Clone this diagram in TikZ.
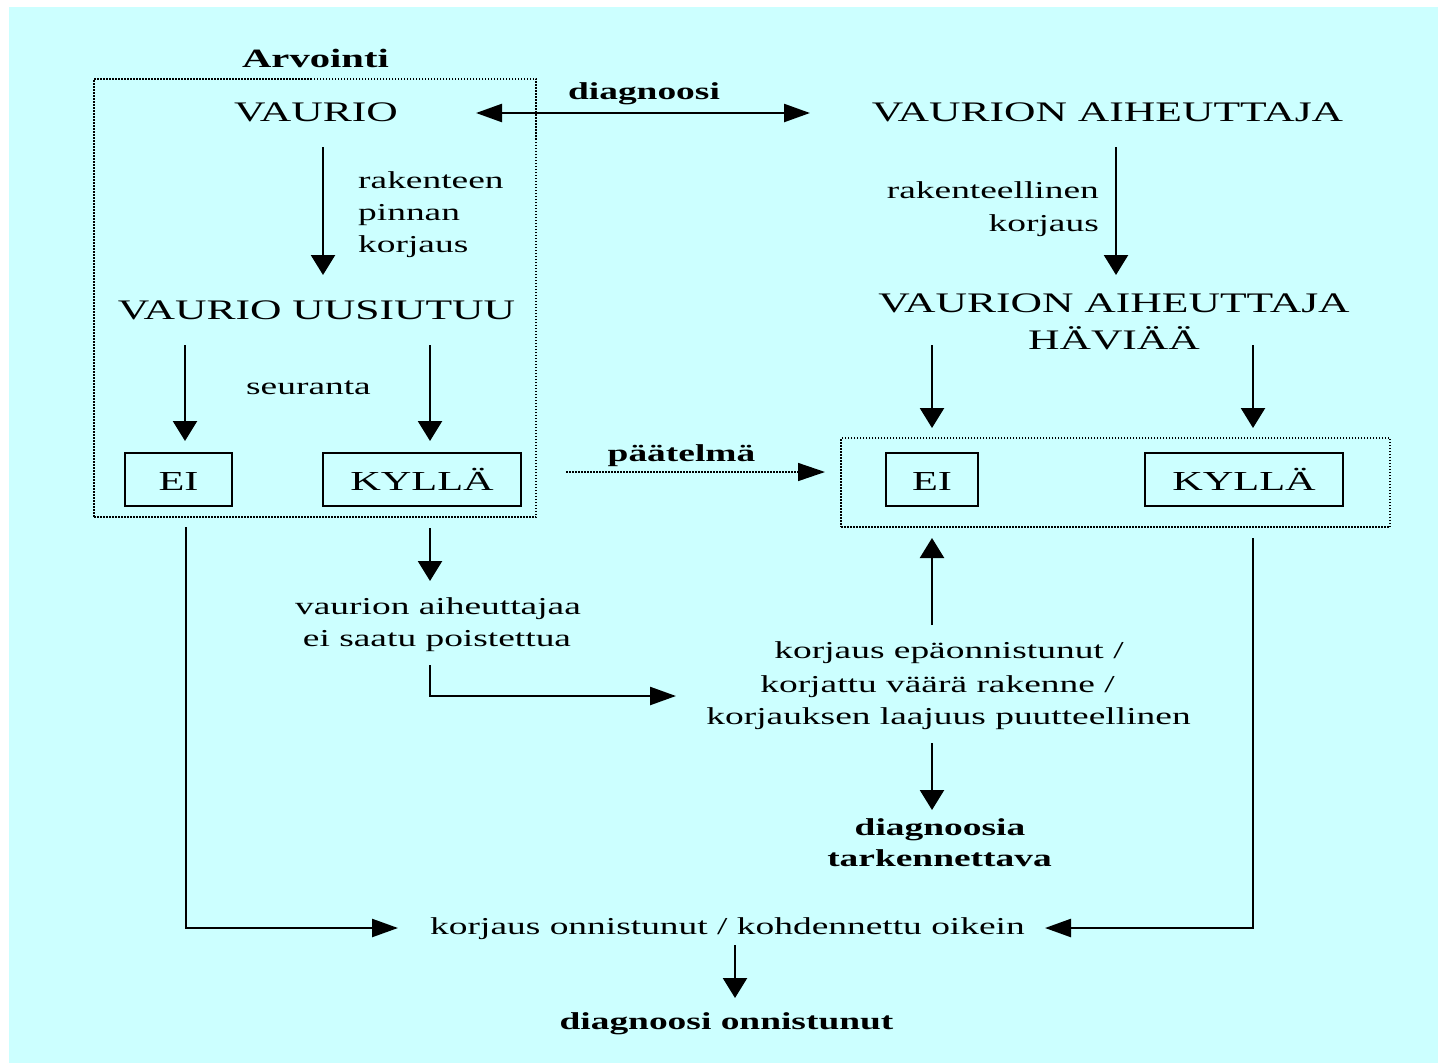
\documentclass[tikz,border=0pt]{standalone}
\usepackage{fontspec}
\setmainfont{Liberation Serif}[FakeStretch=1.54]
\usetikzlibrary{arrows.meta}
\definecolor{bg}{HTML}{CCFFFF}
\begin{document}
\begin{tikzpicture}[x=1pt,y=-1pt,
  big/.style={font=\fontsize{28.3}{36}\selectfont, inner sep=0pt, anchor=base},
  small/.style={font=\fontsize{24.3}{32}\selectfont, inner sep=0pt, anchor=base},
  bsmall/.style={font=\fontsize{24.3}{32}\selectfont\bfseries, inner sep=0pt, anchor=base},
  varr/.style={line width=2.4pt, -{Triangle[length=20pt,width=24pt]}},
  harr/.style={line width=2.4pt, -{Triangle[length=26pt,width=18pt]}},
  dotline/.style={line width=1.5pt, dash pattern=on 1.5pt off 1.5pt},
  ansbox/.style={draw, line width=2pt, font=\fontsize{27.5}{36}\selectfont, inner sep=0pt,
    minimum height=53pt, text height=21pt, text depth=0pt}]
\useasboundingbox (0,0) rectangle (1438,1063);
\fill[white] (0,0) rectangle (1438,1063);
\fill[bg] (9,7) rectangle (1438,1063);

% frames
\node[draw, dotline, minimum width=442pt, minimum height=438pt, inner sep=0pt] (leftframe) at (315,298) {};
\node[draw, dotline, minimum width=549pt, minimum height=89pt, inner sep=0pt] (rightframe) at (1115.5,482.5) {};

% texts
\node[bsmall, font=\fontsize{26.4}{32}\selectfont\bfseries] (arv) at (315.5,67) {Arvointi};
\node[big] (vaurio) at (316,121) {VAURIO};
\node[bsmall] (diag) at (644,99) {diagnoosi};
\node[big] (aiheut) at (1107.5,121) {VAURION AIHEUTTAJA};
\node[small, anchor=base west] (rk1) at (358,188) {rakenteen};
\node[small, anchor=base west] (rk2) at (358,220) {pinnan};
\node[small, anchor=base west] (rk3) at (358,252) {korjaus};
\node[small, anchor=base east] (rl1) at (1099,198) {rakenteellinen};
\node[small, anchor=base east] (rl2) at (1099,231) {korjaus};
\node[big] (uusi) at (316.5,319) {VAURIO UUSIUTUU};
\node[big] (hav1) at (1114,312) {VAURION AIHEUTTAJA};
\node[big] (hav2) at (1114,349) {HÄVIÄÄ};
\node[small] (seur) at (308.5,394) {seuranta};
\node[bsmall] (paat) at (681.5,461) {päätelmä};
\node[small] (ei1) at (438,614) {vaurion aiheuttajaa};
\node[small] (ei2) at (437,646) {ei saatu poistettua};
\node[small] (ep1) at (949,658) {korjaus epäonnistunut /};
\node[small] (ep2) at (937.5,692) {korjattu väärä rakenne /};
\node[small] (ep3) at (948.5,724) {korjauksen laajuus puutteellinen};
\node[bsmall] (tark1) at (940,835) {diagnoosia};
\node[bsmall] (tark2) at (939.5,866) {tarkennettava};
\node[small] (onn) at (727.5,934) {korjaus onnistunut / kohdennettu oikein};
\node[bsmall] (donn) at (726.5,1029) {diagnoosi onnistunut};

% answer boxes
\node[ansbox, minimum width=107pt] (eiL) at (178.5,479.5) {EI};
\node[ansbox, minimum width=198pt] (kyL) at (422,479.5) {KYLLÄ};
\node[ansbox, minimum width=92pt] (eiR) at (932,479.5) {EI};
\node[ansbox, minimum width=198pt] (kyR) at (1244,479.5) {KYLLÄ};

% connector end points
\coordinate (dA) at (476,113); \coordinate (dB) at (810,113);
\coordinate (a1s) at (323,147); \coordinate (a1e) at (323,275);
\coordinate (a2s) at (1116,147); \coordinate (a2e) at (1116,275);
\coordinate (a3s) at (185,345); \coordinate (a3e) at (185,441);
\coordinate (a4s) at (430,345); \coordinate (a4e) at (430,441);
\coordinate (a5s) at (932,345); \coordinate (a5e) at (932,428);
\coordinate (a6s) at (1253,345); \coordinate (a6e) at (1253,428);
\coordinate (pA) at (566,472); \coordinate (pB) at (825,472);
\coordinate (a7s) at (430,528); \coordinate (a7e) at (430,581);
\coordinate (a8s) at (430,665); \coordinate (a8e) at (676,696);
\coordinate (a9s) at (932,625); \coordinate (a9e) at (932,538);
\coordinate (a10s) at (932,743); \coordinate (a10e) at (932,810);
\coordinate (a11s) at (186,527); \coordinate (a11e) at (398,928);
\coordinate (a12s) at (1253,538); \coordinate (a12e) at (1045,928);
\coordinate (a13s) at (735,945); \coordinate (a13e) at (735,998);

% connectors
\draw[line width=2.4pt, {Triangle[length=26pt,width=18pt]}-{Triangle[length=26pt,width=18pt]}] (dA) -- (dB);
\draw[varr] (a1s) -- (a1e);
\draw[varr] (a2s) -- (a2e);
\draw[varr] (a3s) -- (a3e);
\draw[varr] (a4s) -- (a4e);
\draw[varr] (a5s) -- (a5e);
\draw[varr] (a6s) -- (a6e);
\draw[dotline, -{Triangle[length=27pt,width=18pt]}] (pA) -- (pB);
\draw[varr] (a7s) -- (a7e);
\draw[harr] (a8s) |- (a8e);
\draw[varr] (a9s) -- (a9e);
\draw[varr] (a10s) -- (a10e);
\draw[harr] (a11s) |- (a11e);
\draw[harr] (a12s) |- (a12e);
\draw[varr] (a13s) -- (a13e);
\end{tikzpicture}
\end{document}
